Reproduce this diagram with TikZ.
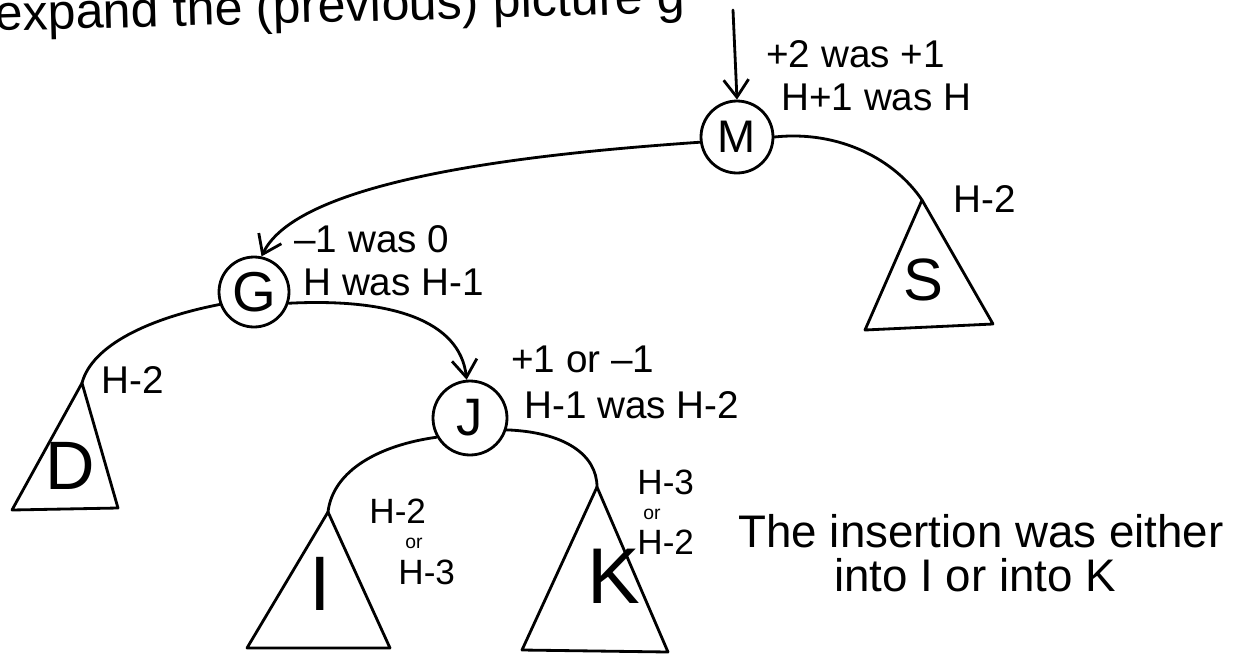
\documentclass[tikz,border=0pt]{standalone}
\usepackage{fontspec}
\setmainfont{Liberation Sans}
\usetikzlibrary{arrows.meta}
\begin{document}
\begin{tikzpicture}[x=0.02cm,y=-0.02cm, line width=1.6pt, line cap=round, line join=round,
  arr/.style={-{Straight Barb[length=3.5mm,width=5mm,line width=1.6pt]}},
  circ/.style={draw,circle,inner sep=0pt,minimum size=#1},
  lab/.style={font=\fontsize{22}{26}\selectfont, inner sep=0pt, anchor=base west},
  lbs/.style={font=\fontsize{20}{24}\selectfont, inner sep=0pt, anchor=base west},
  small/.style={font=\fontsize{11}{13}\selectfont, inner sep=0pt, anchor=base west},
  big/.style={font=\fontsize{26}{30}\selectfont, inner sep=0pt, anchor=base},
  tri/.style={draw}]
\useasboundingbox (0,0) rectangle (1249,667);

% title (cut by the top edge, as in the reference)
\node[inner sep=0pt, anchor=base west, rotate=1.5, font=\fontsize{28.5}{32}\selectfont] (title) at (-6,31) {expand the (previous) picture g};

% circle nodes
\node[circ=1.44cm, font=\fontsize{26}{30}\selectfont] (M) at (737,137) {M};
\node[circ=1.40cm, font=\fontsize{32}{36}\selectfont] (G) at (254,292) {G};
\node[circ=1.48cm, font=\fontsize{30}{34}\selectfont] (J) at (470,418) {J};

% triangle apexes
\coordinate (Sa) at (922,200);
\coordinate (Da) at (82,383);
\coordinate (Ia) at (328,512);
\coordinate (Ka) at (597,487);
\coordinate (top) at (733,10);

% triangles
\draw[tri] (Sa) -- (865,330) -- (993,324) -- cycle;
\draw[tri] (Da) -- (12,510) -- (118,508) -- cycle;
\draw[tri] (Ia) -- (247,648) -- (390,648) -- cycle;
\draw[tri] (Ka) -- (522,650) -- (668,652) -- cycle;

\node[font=\fontsize{34}{38}\selectfont] (S) at (923,280) {S};
\node[font=\fontsize{39}{42}\selectfont] (D) at (70,466) {D};
\node[font=\fontsize{44}{48}\selectfont] (I) at (320,584) {I};
\node[font=\fontsize{45}{50}\selectfont] (K) at (614,576) {K};

% connectors
\draw[arr] (top) -- (M.north);
\draw[arr] (M.188) .. controls (560,152) and (300,175) .. (G.78);
\draw (M.east) .. controls (840,130) and (895,160) .. (Sa);
\draw (G.200) .. controls (150,318) and (92,345) .. (Da);
\draw[arr] (G.-18) .. controls (390,298) and (460,320) .. (J.95);
\draw (J.210) .. controls (380,445) and (333,470) .. (Ia);
\draw (J.-18) .. controls (565,432) and (597,455) .. (Ka);

% labels
\node[lab] (mb) at (765,67) {+2 was +1};
\node[lab] (mh) at (780,110) {H+1 was H};
\node[lab] (sh) at (952,212) {H-2};
\node[lab] (gb) at (293,252) {--1 was 0};
\node[lab] (gh) at (302,295) {H was H-1};
\node[lab] (dh) at (100,393) {H-2};
\node[lab] (jb) at (510,372) {+1 or --1};
\node[lab] (jh) at (523,418) {H-1 was H-2};
\node[lbs] (ih1) at (368,523) {H-2};
\node[small] (ior) at (404,548) {or};
\node[lbs] (ih2) at (397,584) {H-3};
\node[lbs] (kh1) at (636,494) {H-3};
\node[small] (kor) at (642,519) {or};
\node[lbs] (kh2) at (636,554) {H-2};
\node[big] (note1) at (981,547) {The insertion was either};
\node[big] (note2) at (975,591) {into I or into K};
\end{tikzpicture}
\end{document}
